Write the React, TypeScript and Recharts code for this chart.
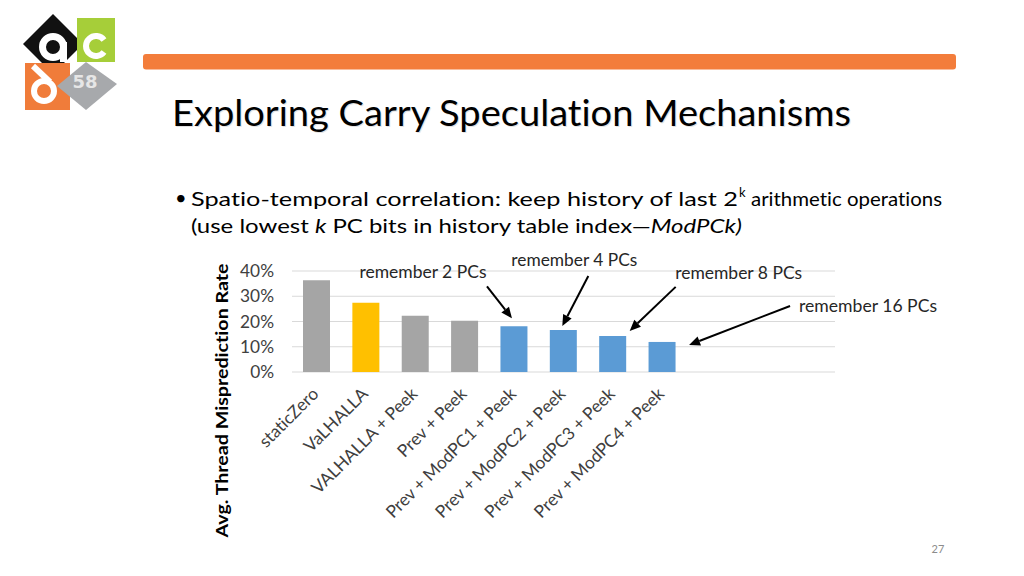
import { BarChart, Bar, XAxis, YAxis, CartesianGrid, Cell, LabelList, Label } from "recharts"

const FONT = "Lato, 'Open Sans', sans-serif"

// chart data
const categories = [
  "staticZero",
  "VaLHALLA",
  "VALHALLA + Peek",
  "Prev + Peek",
  "Prev + ModPC1 + Peek",
  "Prev + ModPC2 + Peek",
  "Prev + ModPC3 + Peek",
  "Prev + ModPC4 + Peek",
  " ",
  "  ",
  "   ",
]
const missRate = [36.3, 27.4, 22.3, 20.3, 18.1, 16.6, 14.3, 11.9, null, null, null]
const notes = ["", "", "", "", "remember 2 PCs", "remember 4 PCs", "remember 8 PCs", "remember 16 PCs", "", "", ""]
const yTicks = [0, 10, 20, 30, 40]

const GRAY = "#A5A5A5"
const YELLOW = "#FFC000"
const BLUE = "#5B9BD5"
const barColors = [GRAY, YELLOW, GRAY, GRAY, BLUE, BLUE, BLUE, BLUE, BLUE, BLUE, BLUE]

const data = categories.map((name, i) => ({ name, rate: missRate[i], note: notes[i] }))

// where each note + arrow sits, relative to the top centre of its bar
const noteLayout: Record<number, { tip: number[]; tail: number[]; text: number[]; len: number }> = {
  4: { tip: [-2, -8], tail: [-27, -40], text: [-91, -48], len: 127 },
  5: { tip: [-1, -4], tail: [25, -54], text: [11, -64], len: 126 },
  6: { tip: [17, -5], tail: [63, -49], text: [126, -57], len: 127 },
  7: { tip: [27, 3], tail: [128, -36], text: [206, -30], len: 138 },
}

const Arrow = ({ x1, y1, x2, y2 }: any) => {
  const ang = Math.atan2(y2 - y1, x2 - x1)
  const L = 11
  const W = 4.8
  const bx = x2 - L * Math.cos(ang)
  const by = y2 - L * Math.sin(ang)
  const px = -Math.sin(ang) * W
  const py = Math.cos(ang) * W
  return (
    <g>
      <line x1={x1} y1={y1} x2={bx} y2={by} stroke="#000" strokeWidth={2} />
      <polygon points={`${x2},${y2} ${bx + px},${by + py} ${bx - px},${by - py}`} fill="#000" />
    </g>
  )
}

const renderNote = (props: any) => {
  const { x, y, width, index, value } = props
  const lay = noteLayout[index]
  if (!lay || !value) return null
  const cx = Number(x) + Number(width) / 2
  const top = Number(y)
  return (
    <g>
      <text
        x={cx + lay.text[0]}
        y={top + lay.text[1]}
        textAnchor="middle"
        fontFamily={FONT}
        fontSize={17.3}
        fill="#262626"
        textLength={lay.len}
        lengthAdjust="spacingAndGlyphs"
      >
        {value}
      </text>
      <Arrow x1={cx + lay.tail[0]} y1={top + lay.tail[1]} x2={cx + lay.tip[0]} y2={top + lay.tip[1]} />
    </g>
  )
}

const XTick = ({ x, y, payload }: any) => {
  const label = String(payload.value).trim()
  if (!label) return null
  const ax = x + 3
  const ay = y + 15
  return (
    <text
      x={ax}
      y={ay}
      textAnchor="end"
      transform={`rotate(-45 ${ax} ${ay})`}
      fontFamily={FONT}
      fontSize={17.3}
      fill="#404040"
    >
      {label}
    </text>
  )
}

const YTitle = ({ viewBox }: any) => {
  const x = viewBox.x - 14
  const y = viewBox.y + viewBox.height / 2 + 79
  return (
    <text
      x={x}
      y={y}
      textAnchor="middle"
      transform={`rotate(-90 ${x} ${y})`}
      fontFamily={FONT}
      fontWeight={700}
      fontSize={17.5}
      fill="#000"
      textLength={274}
      lengthAdjust="spacingAndGlyphs"
    >
      Avg. Thread Misprediction Rate
    </text>
  )
}

const Logo = () => (
  <g>
    <polygon points="53,14 83,44 53,74 23,44" fill="#111" />
    <rect x={77} y={18} width={38} height={44} fill="#A6CE39" />
    <rect x={25} y={63} width={45} height={47} fill="#F07C3A" />
    <polygon points="86,62 117,84 86,110 57,86" fill="#A7A9AC" />
    <circle cx={53} cy={47} r={10.5} fill="none" stroke="#fff" strokeWidth={7} />
    <rect x={60} y={42} width={7} height={20} fill="#fff" />
    <path d="M 104 52 A 10 10 0 1 1 104 40" fill="none" stroke="#fff" strokeWidth={6} />
    <circle cx={44} cy={91} r={10} fill="none" stroke="#fff" strokeWidth={6} />
    <line x1={33} y1={66} x2={50} y2={82} stroke="#fff" strokeWidth={6} />
    <text x={85} y={88} textAnchor="middle" fontFamily="'DejaVu Sans', sans-serif" fontWeight={700} fontSize={18} fill="#E6E6E6">
      58
    </text>
  </g>
)

export default function App() {
  return (
    <div
      style={{
        position: "absolute",
        left: 0,
        top: 0,
        width: 1024,
        height: 576,
        background: "#fff",
        overflow: "hidden",
        fontVariantLigatures: "none",
      }}
    >
      <svg width={1024} height={576} style={{ position: "absolute", left: 0, top: 0 }}>
        <Logo />
        <rect x={143} y={54} width={813} height={15.5} rx={3} fill="#F37D3B" />
        <text x={173} y={127} fontFamily={FONT} fontSize={36.5} fill="#e2e2e2" textLength={679} lengthAdjust="spacingAndGlyphs">
          Exploring Carry Speculation Mechanisms
        </text>
        <text x={172} y={126} fontFamily={FONT} fontSize={36.5} fill="#000" textLength={679} lengthAdjust="spacingAndGlyphs">
          Exploring Carry Speculation Mechanisms
        </text>
        <text x={175} y={205} fontFamily={FONT} fontSize={20} fill="#000">
          •
        </text>
        <text x={191} y={206} fontFamily={FONT} fontSize={20} fill="#000" textLength={547} lengthAdjust="spacingAndGlyphs">
          Spatio-temporal correlation: keep history of last 2
        </text>
        <text x={739} y={197} fontFamily={FONT} fontSize={13} fill="#000">
          k
        </text>
        <text x={751} y={206} fontFamily={FONT} fontSize={20} fill="#000" textLength={191} lengthAdjust="spacingAndGlyphs">
          arithmetic operations
        </text>
        <text x={191} y={233} fontFamily={FONT} fontSize={20} fill="#000" textLength={551} lengthAdjust="spacingAndGlyphs">
          (use lowest <tspan fontStyle="italic">k</tspan> PC bits in history table index—<tspan fontStyle="italic">ModPCk)</tspan>
        </text>
        <text x={938} y={553} textAnchor="middle" fontFamily={FONT} fontSize={11} fill="#8c8c8c">
          27
        </text>
      </svg>
      <div style={{ position: "absolute", left: 200, top: 240 }}>
        <BarChart width={760} height={305} data={data} margin={{ top: 31, right: 125, left: 42, bottom: 0 }}>
          <CartesianGrid vertical={false} stroke="#D9D9D9" />
          <XAxis dataKey="name" interval={0} axisLine={false} tickLine={false} height={173} tick={<XTick />} />
          <YAxis
            domain={[0, 40]}
            ticks={yTicks}
            tickFormatter={(v: number) => `${v}%`}
            axisLine={false}
            tickLine={false}
            tickMargin={12}
            width={50}
            tick={{ fontFamily: FONT, fontSize: 17.3, fill: "#404040" }}
          >
            <Label content={<YTitle />} />
          </YAxis>
          <Bar dataKey="rate" barSize={27} isAnimationActive={false}>
            {data.map((_, i) => (
              <Cell key={`c-${i}`} fill={barColors[i]} />
            ))}
            <LabelList dataKey="note" content={renderNote} />
          </Bar>
        </BarChart>
      </div>
    </div>
  )
}
